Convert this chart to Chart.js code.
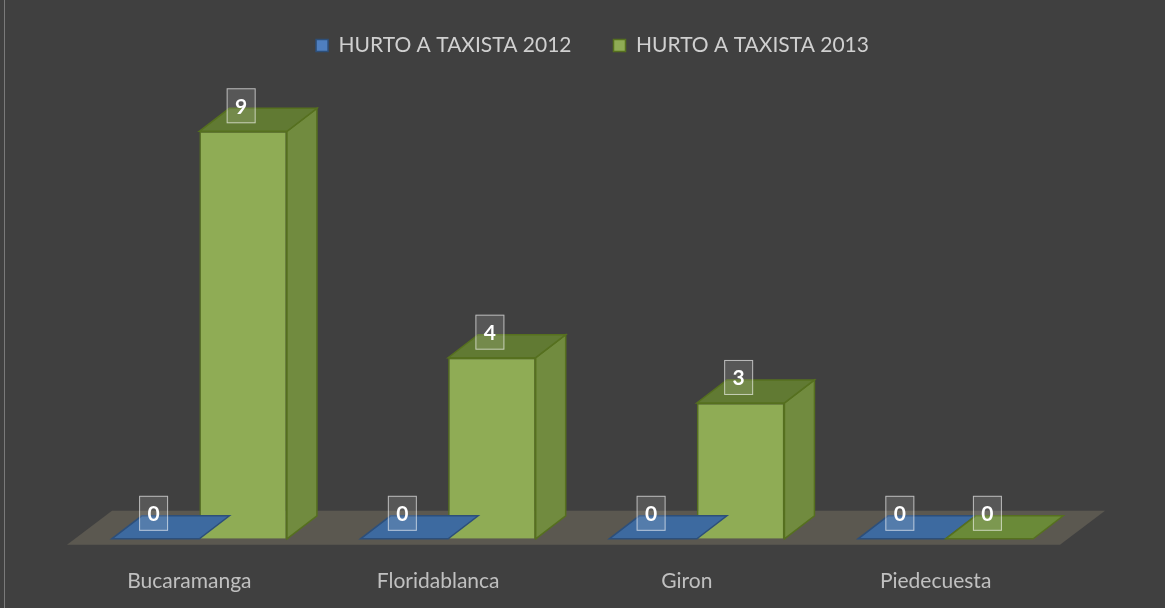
<!DOCTYPE html>
<html>
<head>
<meta charset="utf-8">
<script src="https://cdn.jsdelivr.net/npm/chart.js@4.4.0/dist/chart.umd.min.js"></script>
<style>
  html, body { margin: 0; padding: 0; background: #404040; }
  #wrap { position: relative; width: 1165px; height: 608px; }
  #wrap:before { content: ''; position: absolute; left: 4px; top: 0; bottom: 0; width: 1px; background: #7a7a7a; }
</style>
</head>
<body>
<div id="wrap"><canvas id="taxiChart" width="1165" height="608"></canvas></div>
<script>
const categories = ['Bucaramanga', 'Floridablanca', 'Giron', 'Piedecuesta'];
const hurto2012 = [0, 0, 0, 0];
const hurto2013 = [9, 4, 3, 0];
const seriesNames = ['HURTO A TAXISTA 2012', 'HURTO A TAXISTA 2013'];

// 3D look: depth offset of each bar and of the floor
const DX = 30, DY = -23;

const faces = [
    { front: '#4f7fbf', top: '#3e6799', side: '#3a5f8e', edge: '#2d4f7a' },
    { front: '#8fac55', top: '#617a33', side: '#718b3f', edge: '#56701f' }
];

// extra room under the legend, and centre it on the whole picture
const legendGap = {
    id: 'legendGap',
    afterInit(chart) {
        const fit = chart.legend.fit;
        chart.legend.fit = function () {
            fit.call(this);
            this.height += 20;
        };
    },
    afterLayout(chart) {
        chart.legend.left += 20;
        chart.legend.right += 20;
    }
};

const floor3d = {
    id: 'floor3d',
    beforeDatasetsDraw(chart) {
        const { ctx, chartArea } = chart;
        const base = chart.scales.y.getPixelForValue(0);
        const l = chartArea.left - 8, r = chartArea.right - 10, y = base + 6;
        ctx.save();
        ctx.fillStyle = '#5b5850';
        ctx.beginPath();
        ctx.moveTo(l, y);
        ctx.lineTo(r, y);
        ctx.lineTo(r + 45, y - 34);
        ctx.lineTo(l + 45, y - 34);
        ctx.closePath();
        ctx.fill();
        ctx.restore();
    }
};

const bars3d = {
    id: 'bars3d',
    afterDatasetsDraw(chart) {
        const { ctx } = chart;
        chart.data.datasets.forEach((ds, di) => {
            const f = faces[di];
            chart.getDatasetMeta(di).data.forEach((bar, i) => {
                const x0 = bar.x - bar.width / 2, x1 = bar.x + bar.width / 2;
                const top = bar.y, bottom = bar.base;
                ctx.save();
                ctx.lineWidth = 1.5;
                ctx.strokeStyle = f.edge;
                if (bottom - top > 0.5) {
                    ctx.fillStyle = f.side;
                    ctx.beginPath();
                    ctx.moveTo(x1, bottom);
                    ctx.lineTo(x1 + DX, bottom + DY);
                    ctx.lineTo(x1 + DX, top + DY);
                    ctx.lineTo(x1, top);
                    ctx.closePath();
                    ctx.fill();
                    ctx.stroke();
                }
                ctx.fillStyle = bottom - top > 0.5 ? f.top : (di === 0 ? '#3d6aa0' : '#6a8a38');
                ctx.beginPath();
                ctx.moveTo(x0, top);
                ctx.lineTo(x1, top);
                ctx.lineTo(x1 + DX, top + DY);
                ctx.lineTo(x0 + DX, top + DY);
                ctx.closePath();
                ctx.fill();
                ctx.stroke();
                ctx.restore();
            });
        });
        // value labels in boxes
        chart.data.datasets.forEach((ds, di) => {
            chart.getDatasetMeta(di).data.forEach((bar, i) => {
                const w = 29, h = 35;
                const cx = bar.x - 2, by = bar.y - 8;
                ctx.save();
                ctx.fillStyle = 'rgba(255,255,255,0.12)';
                ctx.fillRect(cx - w / 2, by - h, w, h);
                ctx.strokeStyle = 'rgba(255,255,255,0.6)';
                ctx.lineWidth = 1;
                ctx.strokeRect(cx - w / 2 + 0.5, by - h + 0.5, w - 1, h - 1);
                ctx.fillStyle = '#ffffff';
                ctx.font = 'bold 21px Lato';
                ctx.textAlign = 'center';
                ctx.textBaseline = 'middle';
                ctx.fillText(String(ds.data[i]), cx, by - h / 2 + 1);
                ctx.restore();
            });
        });
    }
};

new Chart(document.getElementById('taxiChart').getContext('2d'), {
    type: 'bar',
    data: {
        labels: categories,
        datasets: [
            { label: seriesNames[0], data: hurto2012, backgroundColor: faces[0].front, borderColor: faces[0].edge, borderWidth: 1.5 },
            { label: seriesNames[1], data: hurto2013, backgroundColor: faces[1].front, borderColor: faces[1].edge, borderWidth: 1.5 }
        ]
    },
    options: {
        responsive: false,
        animation: false,
        layout: { padding: { left: 75, right: 95, top: -7, bottom: -8 } },
        categoryPercentage: 0.704,
        barPercentage: 1.0,
        plugins: {
            tooltip: { enabled: false },
            legend: {
                position: 'top',
                labels: {
                    color: '#d0d0d0',
                    font: { family: 'Lato', size: 21 },
                    boxWidth: 12,
                    boxHeight: 12,
                    padding: 42
                }
            }
        },
        scales: {
            x: {
                grid: { display: false },
                border: { display: false },
                ticks: { color: '#c0c0c0', font: { family: 'Lato', size: 21 }, labelOffset: -10, padding: 22 }
            },
            y: {
                display: false,
                min: 0,
                max: 10
            }
        }
    },
    plugins: [legendGap, floor3d, bars3d]
});
</script>
</body>
</html>
